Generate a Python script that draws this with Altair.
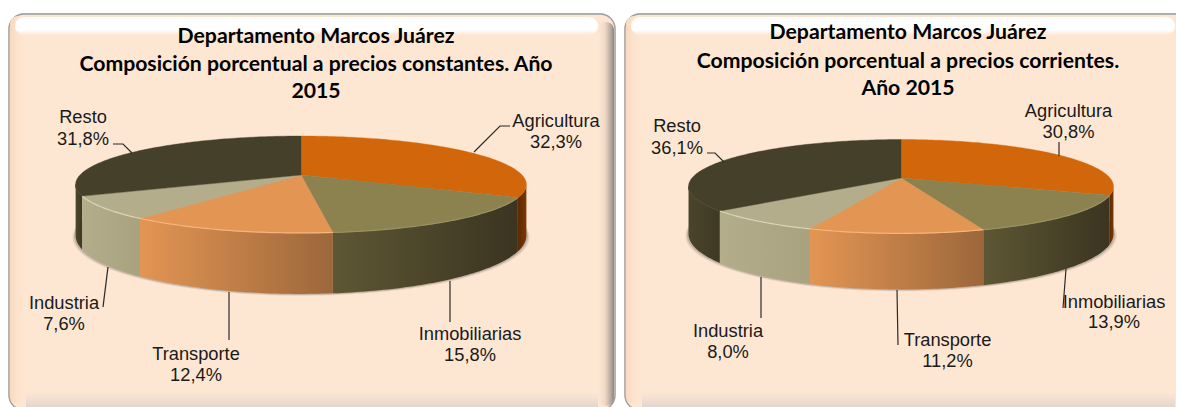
import math
import altair as alt

categorias = ["Agricultura", "Inmobiliarias", "Transporte", "Industria", "Resto"]
constantes = [32.3, 15.8, 12.4, 7.6, 31.8]
corrientes = [30.8, 13.9, 11.2, 8.0, 36.1]
titulo_1 = ["Departamento Marcos Juárez", "Composición porcentual a precios constantes. Año", "2015"]
titulo_2 = ["Departamento Marcos Juárez", "Composición porcentual a precios corrientes.", "Año 2015"]

top_colors = ["#d2660a", "#8b8250", "#e39553", "#b3ad8b", "#45402a"]
wall_colors = [("#7a3803", "#5c2a02"), ("#5e5734", "#3a3421"), ("#e39553", "#9c673b"),
               ("#b3ad8b", "#a8a27f"), ("#4a452b", "#3e3923")]
rim_colors = ["#d2660a", "#9a9160", "#f6b57d", "#d9d5b6", "#4f4a2e"]

W, H = 1168, 399
X = alt.X("x:Q", scale=alt.Scale(domain=[8, 1176], nice=False, zero=False), axis=None)
Y = alt.Y("y:Q", scale=alt.Scale(domain=[407, 8], nice=False, zero=False), axis=None)
PROJ = alt.Projection(type="identity", scale=1, translate=[-8, -8])


def grad(stops, horizontal=True):
    n = [alt.GradientStop(color=c, offset=o) for o, c in stops]
    if horizontal:
        return alt.Gradient(gradient="linear", stops=n, x1=0, x2=1, y1=0, y2=0)
    return alt.Gradient(gradient="linear", stops=n, x1=0, x2=0, y1=0, y2=1)


def rect(x0, x1, y0, y1, **kw):
    return alt.Chart(alt.Data(values=[{"x": x0, "x2": x1, "y": y0, "y2": y1}])).mark_rect(**kw).encode(
        x=X, x2="x2:Q", y=Y, y2="y2:Q")


def panel(x0, x1, y0, y1):
    peach = "#fee7d2"
    return [
        rect(x0 - 1, x1 + 1, y0 - 1, y1 + 1, fill="#d8d4d0", cornerRadius=16, opacity=0.6),
        rect(x0, x1, y0, y1, fill=peach, stroke="#9a9a9a", strokeWidth=1.3, cornerRadius=15),
        rect(x0 + 1, x0 + 17, y0 + 2, y1 - 6, fill=grad([(0, "#f9d9bf"), (0.5, "#fde3cd"), (1, peach)]), cornerRadius=10),
        rect(x1 - 17, x1 - 1, y0 + 8, y1 - 4, fill=grad([(0, peach), (0.45, "#eed8c5"), (0.8, "#b5a99e"), (1, "#8c8885")]), cornerRadius=8),
        rect(x0 + 17, x1 - 17, y1 - 17, y1 - 2, fill=grad([(0, "#fde4d2"), (0.35, "#f4e0d2"), (1, "#e2d3ca")], False)),
        rect(x0 + 6, x1 - 17, y0 + 3, y0 + 21, fill=grad([(0, "#ffffff"), (0.72, "#ffffff"), (1, peach)], False), cornerRadius=9),
    ]


def pie(values, cx, cy, A, B, k, D):
    def rim(a):
        r = math.radians(a)
        w = 1 + k * math.cos(r)
        return cx + A * math.sin(r) / w, cy - B * math.cos(r) / w, w

    def low(a):
        x, y, w = rim(a)
        return x, y + D / w

    def arc(a, b):
        n = max(2, int(abs(b - a)) + 1)
        return [a + (b - a) * i / n for i in range(n + 1)]

    def shape(points, kind="Polygon"):
        pts = [list(p) for p in points]
        geom = {"type": "LineString", "coordinates": pts} if kind == "LineString" else {"type": "Polygon", "coordinates": [pts + [pts[0]]]}
        return alt.Data(values=[{"type": "Feature", "properties": {}, "geometry": geom}])

    layers = []
    total = sum(values)
    edges = [0]
    for v in values:
        edges.append(edges[-1] + v / total * 360)
    a_r = math.degrees(math.acos(-k))
    a_l = 360 - a_r

    # soft shadow of the pie's lower rim
    for grow, op in [(3.0, 0.18), (1.5, 0.3)]:
        ring = []
        for a in arc(0, 359):
            x, y = low(a)
            ring.append((cx + (x - cx) * (1 + grow / A), y + grow * 0.6))
        layers.append(alt.Chart(shape(ring)).mark_geoshape(fill="#6e675c", opacity=op, strokeWidth=0).project(**PROJ.to_dict()))

    # walls, from the outer ends to the front
    order = [0, 4, 3, 1, 2]
    for i in order:
        a, b = max(edges[i], a_r), min(edges[i + 1], a_l)
        if b <= a:
            continue
        pts = arc(a, b)
        poly = [rim(t)[:2] for t in pts] + [low(t) for t in reversed(pts)]
        c0, c1 = wall_colors[i]
        layers.append(alt.Chart(shape(poly)).mark_geoshape(
            fill=grad([(0, c1 if i == 0 else c0), (1, c0 if i == 0 else c1)]), strokeWidth=0).project(**PROJ.to_dict()))

    # top faces
    for i in range(5):
        pts = arc(edges[i], edges[i + 1])
        poly = [(cx, cy)] + [rim(t)[:2] for t in pts]
        layers.append(alt.Chart(shape(poly)).mark_geoshape(
            fill=top_colors[i], stroke=top_colors[i], strokeWidth=0.4).project(**PROJ.to_dict()))

    # light line along the front rim
    for i in range(5):
        a, b = max(edges[i], a_r), min(edges[i + 1], a_l)
        if b > a and i != 0:
            line = [rim(t)[:2] for t in arc(a, b)]
            layers.append(alt.Chart(shape(line, "LineString")).mark_geoshape(
                filled=False, stroke=rim_colors[i], strokeWidth=1.2).project(**PROJ.to_dict()))
    return layers


def texto(lines, center, fontkw):
    rows = [{"x": center, "y": y, "t": t} for t, y in lines]
    return alt.Chart(alt.Data(values=rows)).mark_text(align="center", baseline="alphabetic", **fontkw).encode(
        x=X, y=Y, text="t:N")


def fmt(v):
    return f"{v:.1f}".replace(".", ",") + "%"


def labels(values, pos):
    out = []
    for c, v, (x, y1, y2) in zip(categorias, values, pos):
        out.append(texto([(c, y1), (fmt(v), y2)], x, dict(font="Liberation Sans", fontSize=18.3, color="#1a1a1a")))
    return out


def leaders(paths):
    rows = []
    for n, p in enumerate(paths):
        for o, (x, y) in enumerate(p):
            rows.append({"id": n, "o": o, "x": x, "y": y})
    return alt.Chart(alt.Data(values=rows)).mark_line(color="#2b2b2b", strokeWidth=1.2).encode(
        x=X, y=Y, detail="id:N", order="o:Q")


TITLE = dict(font="Lato", fontSize=21.2, fontWeight="bold", color="#000000")
layers = []
layers += panel(9, 615, 14, 410)
layers += panel(625, 1192, 14, 410)
layers += pie(constantes, 301, 175, 221, 46.6, 0.196, 49)
layers += pie(corrientes, 901, 178, 209, 45.4, 0.18, 46)
layers.append(leaders([
    [(510, 126), (500, 126), (474, 152)],
    [(450, 281), (450, 322)],
    [(229, 292), (229, 340)],
    [(108, 267), (103, 307)],
    [(113, 144), (123, 144), (132, 153)],
    [(1059, 142), (1059, 156)],
    [(1066, 269), (1063, 308)],
    [(897, 290), (898, 345)],
    [(761, 277), (761, 318)],
    [(707, 153), (715, 153), (724, 162)],
]))
layers.append(texto(list(zip(titulo_1, [43, 71, 98])), 316, TITLE))
layers.append(texto(list(zip(titulo_2, [39, 68, 95])), 908, TITLE))
layers += labels(constantes, [(556, 127, 148), (470, 340, 361), (196, 360, 381), (64, 309, 330), (83, 123, 145)])
layers += labels(corrientes, [(1068.5, 117, 138), (1114, 308, 328), (947.5, 346, 367), (728, 337, 358), (677, 132, 154)])

chart = alt.layer(*layers).properties(
    width=W, height=H, padding=0, autosize=alt.AutoSizeParams(type="none")
).configure_view(stroke=None)

chart.save("out.html", embed_options={"renderer": "svg", "actions": False})
